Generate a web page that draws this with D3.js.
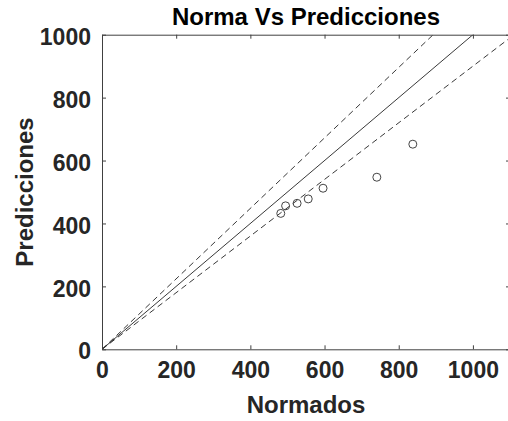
<!DOCTYPE html>
<html>
<head>
<meta charset="utf-8">
<script src="https://cdn.jsdelivr.net/npm/d3@7"></script>
<style>
  html, body { margin: 0; padding: 0; background: #fff; overflow: hidden; }
  svg { display: block; font-family: "Liberation Sans", Arial, sans-serif; }
</style>
</head>
<body>
<svg id="svg" width="508" height="421"></svg>
<script>
// ---- data ----
const normados = [482, 495, 526, 556, 596, 741, 838];
const predicciones = [432, 456, 464, 478, 512, 547, 652];
const xTicks = [0, 200, 400, 600, 800, 1000];
const yTicks = [0, 200, 400, 600, 800, 1000];
// reference lines: y = k * x
const slopes = [1, 1.12, 0.9];
const styles = ["solid", "dashed", "dashed"];

// ---- layout ----
const plotL = 102, plotR = 510, plotT = 34.7, plotB = 349.3;
const x = d3.scaleLinear().domain([0, 1100]).range([plotL, plotR]);
const y = d3.scaleLinear().domain([0, 1000]).range([plotB, plotT]);
const axisColor = "#404040";

const svg = d3.select("#svg");

svg.append("clipPath").attr("id", "plot")
  .append("rect")
  .attr("x", plotL).attr("y", plotT)
  .attr("width", plotR - plotL).attr("height", plotB - plotT);

// reference lines
const line = d3.line().x(d => x(d[0])).y(d => y(d[1]));
svg.append("g").attr("clip-path", "url(#plot)")
  .selectAll("path")
  .data(slopes)
  .join("path")
  .attr("d", k => line([[0, 0], [1100, 1100 * k]]))
  .attr("fill", "none")
  .attr("stroke", "#222")
  .attr("stroke-width", 0.9)
  .attr("stroke-dasharray", (k, i) => styles[i] === "dashed" ? "6,4" : null);

// points
svg.append("g")
  .selectAll("circle")
  .data(normados.map((v, i) => [v, predicciones[i]]))
  .join("circle")
  .attr("cx", d => x(d[0]))
  .attr("cy", d => y(d[1]))
  .attr("r", 4)
  .attr("fill", "none")
  .attr("stroke", "#444")
  .attr("stroke-width", 1);

// axes (box with inward ticks)
const tickLen = 4;
const fmt = d3.format("d");
const xAxis = svg.append("g").attr("transform", `translate(0,${plotB})`)
  .call(d3.axisBottom(x).tickValues(xTicks).tickFormat(fmt).tickSizeInner(-tickLen).tickSizeOuter(0).tickPadding(12));
const yAxis = svg.append("g").attr("transform", `translate(${plotL},0)`)
  .call(d3.axisLeft(y).tickValues(yTicks).tickFormat(fmt).tickSizeInner(-tickLen).tickSizeOuter(0).tickPadding(11));
const xTop = svg.append("g").attr("transform", `translate(0,${plotT})`)
  .call(d3.axisTop(x).tickValues(xTicks).tickSizeInner(-tickLen).tickSizeOuter(0).tickFormat(""));
const yRight = svg.append("g").attr("transform", `translate(${plotR},0)`)
  .call(d3.axisRight(y).tickValues(yTicks).tickSizeInner(-tickLen).tickSizeOuter(0).tickFormat(""));

[xAxis, yAxis, xTop, yRight].forEach(g => {
  g.select(".domain").attr("stroke", axisColor).attr("stroke-width", 1);
  g.selectAll(".tick line").attr("stroke", axisColor).attr("stroke-width", 1);
  g.selectAll(".tick text")
    .attr("fill", "#262626")
    .attr("font-size", 23)
    .attr("font-weight", "bold")
    .attr("font-family", "Liberation Sans, Arial, sans-serif");
});
yAxis.selectAll(".tick text").attr("dy", "0.42em");

// title and labels
svg.append("text")
  .attr("x", 306).attr("y", 25)
  .attr("text-anchor", "middle")
  .attr("font-size", 24).attr("font-weight", "bold")
  .attr("fill", "#000")
  .text("Norma Vs Predicciones");

svg.append("text")
  .attr("x", 306).attr("y", 413)
  .attr("text-anchor", "middle")
  .attr("font-size", 24).attr("font-weight", "bold")
  .attr("fill", "#262626")
  .text("Normados");

svg.append("text")
  .attr("transform", `translate(33,${(plotT + plotB) / 2}) rotate(-90)`)
  .attr("text-anchor", "middle")
  .attr("font-size", 24).attr("font-weight", "bold")
  .attr("fill", "#262626")
  .text("Predicciones");
</script>
</body>
</html>
